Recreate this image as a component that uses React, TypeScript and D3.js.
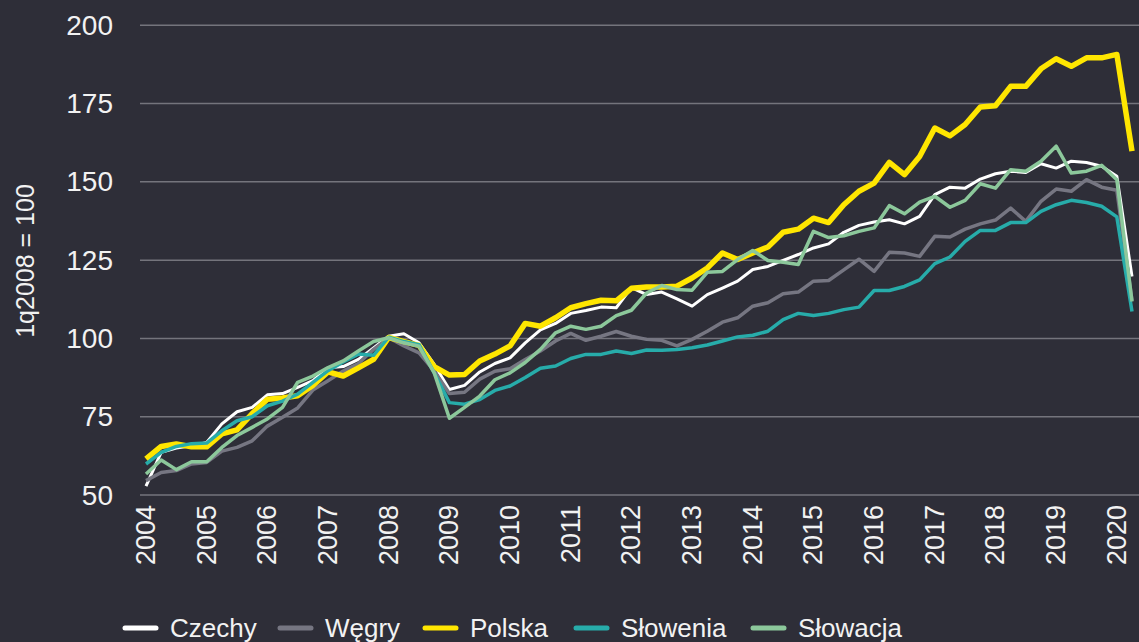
import React from "react";
import * as d3 from "d3";

const years = ["2004","2005","2006","2007","2008","2009","2010","2011","2012","2013","2014","2015","2016","2017","2018","2019","2020"];
const yTicks = [50, 75, 100, 125, 150, 175, 200];

const czechy = [52.8,63.6,65,65.7,66.8,72.7,76.6,78,82,82.4,84.4,86.5,90.6,91,93.3,97,100.7,101.5,98.6,91.7,83.7,85,89.3,92,93.8,98.6,102.7,104.8,108,108.9,110,109.8,116.2,114,114.8,112.6,110.3,114,116.1,118.3,122,123,124.9,126.8,128.9,130.2,133.9,136.1,137.2,137.9,136.6,139,145.9,148.3,148,150.9,152.6,153.4,153,155.8,154.4,156.6,156.2,155,151.8,119.8];
const wegry = [54.6,57.2,57.8,59.9,60.4,64,65.2,67.3,72,74.8,77.8,83.5,86.5,89.6,92,96.5,100.2,97.6,95.4,89.6,82.4,82.8,87,89.5,90.3,93.3,96,99.2,101.6,99.4,100.7,102.2,100.7,99.7,99.4,97.6,99.7,102.3,105.2,106.6,110.3,111.4,114.3,114.8,118.3,118.5,121.9,125.3,121.4,127.5,127.3,126.2,132.6,132.4,134.9,136.6,137.8,141.6,137.4,143.8,147.7,147,150.7,148.3,147.3,112];
const polska = [61.5,65.5,66.3,65.4,65.4,69.5,70.8,76,80.6,81,81.7,85,89.3,88,90.6,93.3,100.3,99,97.8,91,88.3,88.5,92.8,95,97.6,104.8,103.9,106.6,109.8,111.1,112.2,112,116,116.4,116.4,116.7,119.3,122.5,127.3,125.2,127.3,129.2,133.9,134.9,138.4,137,142.7,147,149.6,156.2,152.3,158.1,167.2,164.7,168.3,173.9,174.3,180.5,180.5,186.1,189.3,186.9,189.6,189.6,190.7,159.8];
const slowenia = [59.9,63.6,65.5,66.4,66.6,70.5,73.7,75,78.5,80,82.2,86,89.7,92.5,95,94.6,100.4,99,98,89,79.5,79,80.5,83.4,84.8,87.5,90.5,91.2,93.6,94.9,94.9,96,95.2,96.3,96.2,96.5,97,97.9,99.2,100.5,101,102.3,106,108,107.3,108,109.2,110,115.3,115.3,116.6,118.7,123.9,126,131,134.5,134.5,137,137,140.6,142.7,144.1,143.4,142.2,138.8,108.6];
const slowacja = [56.7,61.2,58.1,60.6,60.6,65.2,69,71.6,74.3,78,86,88,90.7,92.8,96,99,100.2,98.6,97.5,89,74.5,78,81.6,86.8,89,92.3,96.5,101.8,103.9,102.9,103.9,107.3,109,114.5,116.9,115.6,115.4,121.1,121.4,125.2,128.1,124.9,124.3,123.6,134.2,132.2,132.8,134.2,135.3,142.4,139.8,143.5,145.4,141.9,144.1,149.4,148,153.9,153.4,156.6,161.4,152.8,153.4,155.3,150.7,111.8];

const seriesNames = ["Czechy", "Węgry", "Polska", "Słowenia", "Słowacja"];
const seriesData = [czechy, wegry, polska, slowenia, slowacja];
const seriesColors = ["#ffffff", "#767682", "#ffe600", "#27acaa", "#8cc89b"];
const seriesWidths = [3, 3.5, 5.5, 3.5, 3.5];

const W = 1139;
const H = 642;
const FONT = "'Liberation Sans', Arial, sans-serif";

export default function App() {
  const x = d3.scaleLinear().domain([0, 65]).range([146, 1132]);
  const y = d3.scaleLinear().domain([50, 200]).range([495, 25.3]);
  const line = d3
    .line<number>()
    .x((_, i) => x(i))
    .y((d) => y(d));

  const legendX = [125, 280, 425, 576, 753];

  return (
    <svg
      width={W}
      height={H}
      style={{ position: "absolute", left: 0, top: 0, background: "#2e2e38" }}
    >
      <rect x={0} y={0} width={W} height={H} fill="#2e2e38" />
      {yTicks.map((t) => (
        <g key={t}>
          <line x1={140} x2={W} y1={y(t)} y2={y(t)} stroke="#74747c" strokeWidth={1.5} />
          <text
            x={113}
            y={y(t)}
            textAnchor="end"
            dominantBaseline="central"
            fill="#f2f2f2"
            fontSize={28}
            fontFamily={FONT}
          >
            {t}
          </text>
        </g>
      ))}
      <text
        transform={`translate(25,261) rotate(-90)`}
        textAnchor="middle"
        dominantBaseline="central"
        fill="#f2f2f2"
        fontSize={25}
        fontFamily={FONT}
      >
        1q2008 = 100
      </text>
      {years.map((yr, k) => (
        <text
          key={yr}
          transform={`translate(${x(k * 4)},505) rotate(-90)`}
          textAnchor="end"
          dominantBaseline="central"
          fill="#f2f2f2"
          fontSize={27}
          fontFamily={FONT}
        >
          {yr}
        </text>
      ))}
      {seriesData.map((d, k) => (
        <path
          key={seriesNames[k]}
          d={line(d) || ""}
          fill="none"
          stroke={seriesColors[k]}
          strokeWidth={seriesWidths[k]}
          strokeLinejoin="round"
          strokeLinecap="butt"
        />
      ))}
      {seriesNames.map((n, k) => (
        <g key={n}>
          <line
            x1={legendX[k]}
            x2={legendX[k] + 31}
            y1={628}
            y2={628}
            stroke={seriesColors[k]}
            strokeWidth={5}
            strokeLinecap="round"
          />
          <text
            x={legendX[k] + 45}
            y={637}
            fill="#f2f2f2"
            fontSize={26}
            fontFamily={FONT}
          >
            {n}
          </text>
        </g>
      ))}
    </svg>
  );
}
